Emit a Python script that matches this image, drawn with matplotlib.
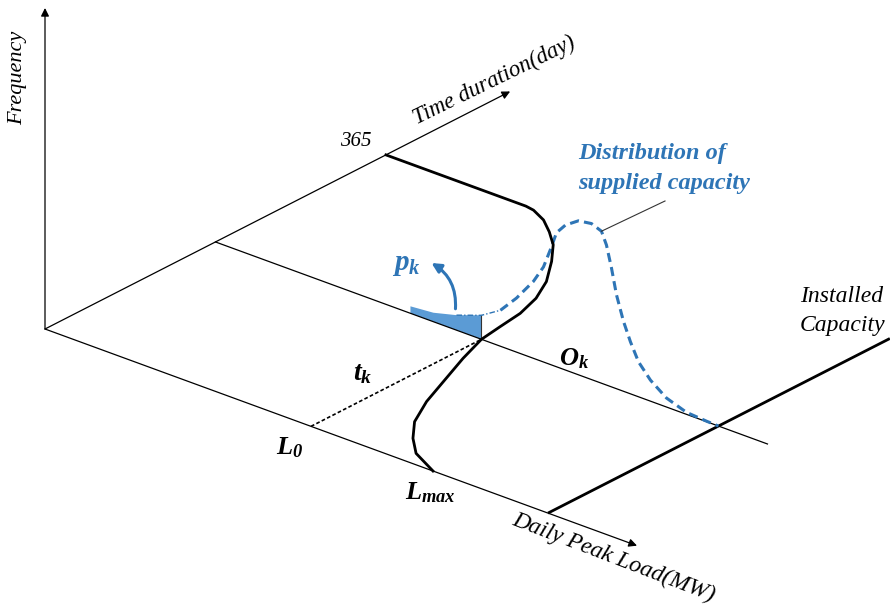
import numpy as np
import matplotlib.pyplot as plt
from matplotlib.patches import FancyArrowPatch, Polygon

plt.rcParams['mathtext.fontset'] = 'custom'
plt.rcParams['mathtext.it'] = 'Liberation Serif:italic:bold'
plt.rcParams['mathtext.rm'] = 'Liberation Serif:italic:bold'
plt.rcParams['mathtext.bf'] = 'Liberation Serif:italic:bold'

# ---- values -------------------------------------------------------------
days_in_year = 365
t_k = 182.5            # day at which the supplied-capacity slice is taken
load_L0 = 266          # load reached at t_k
load_Lmax = 388        # peak load of the year
installed_capacity = 503

# load-duration curve in the (load, day) floor plane
ldc_load = [0, 140, 149, 166, 183, 200, 218, 238, 251, 259, 262.5, 266,
            277, 292, 305, 321, 339, 358, 388]
ldc_days = [365, 365, 363.5, 356, 344, 330, 309, 282, 257, 231.5, 206,
            182.5, 151, 114, 82, 52, 31, 14, 0]

# distribution of supplied capacity on the t_k slice (load, frequency)
dist_load = [195, 218, 241, 266, 285, 301, 318, 328, 336, 341, 350, 363,
             376, 386, 391, 396, 401, 408, 415, 423, 435, 451, 471, 491, 503]
dist_freq = [7, 9, 15, 24, 36, 54, 77, 95, 118, 134, 145, 154,
             156, 152, 140, 119, 94, 70, 52, 35, 21, 9, 2, 0.5, 0]

# axis lengths (drawing units)
load_axis_end = 592
day_axis_end = 498
freq_axis_end = 321
slice_end = 552

# ---- oblique projection -------------------------------------------------
ORIGIN = np.array([45.0, 329.0])
U_LOAD = np.array([1.0, 0.366])
U_DAY = np.array([0.934, -0.477])
U_FREQ = np.array([0.0, -1.0])


def proj(load, day, freq=0.0):
    load = np.asarray(load, float)
    day = np.asarray(day, float)
    freq = np.asarray(freq, float)
    x = ORIGIN[0] + load * U_LOAD[0] + day * U_DAY[0] + freq * U_FREQ[0]
    y = ORIGIN[1] + load * U_LOAD[1] + day * U_DAY[1] + freq * U_FREQ[1]
    return x, y


BLUE = '#2E75B6'
FILL = '#5B9BD5'
SERIF = 'Liberation Serif'

fig = plt.figure(figsize=(8.9, 6.13), dpi=100)
ax = fig.add_axes([0, 0, 1, 1])
ax.set_xlim(0, 890)
ax.set_ylim(613, 0)
ax.axis('off')


def arrow_axis(p0, p1):
    ax.annotate('', xy=p1, xytext=p0,
                arrowprops=dict(arrowstyle='-|>', color='black', lw=0.9,
                                mutation_scale=12, shrinkA=0, shrinkB=0))


# axes
o = proj(0, 0, 0)
arrow_axis(o, proj(load_axis_end, 0, 0))
arrow_axis(o, proj(0, day_axis_end, 0))
arrow_axis(o, proj(0, 0, freq_axis_end))

# slice line at t_k
sx, sy = proj([0, slice_end], [t_k, t_k])
ax.plot(sx, sy, color='black', lw=0.9)

# dashed line from L0 to the slice
dx, dy = proj([load_L0, load_L0], [0, t_k])
ax.plot(dx, dy, color='black', lw=1.2, ls=(0, (2.2, 1.4)))

# installed capacity line
ix, iy = proj([installed_capacity, installed_capacity], [0, 366])
ax.plot(ix, iy, color='black', lw=2.0, solid_capstyle='butt')

# shaded probability p_k
dl = np.array(dist_load, float)
df = np.array(dist_freq, float)
m = dl <= load_L0
top_x, top_y = proj(dl[m], t_k, df[m])
bot_x, bot_y = proj(dl[m][::-1], t_k, 0)
poly = np.column_stack([np.r_[top_x, bot_x], np.r_[top_y, bot_y]])
ax.add_patch(Polygon(poly, closed=True, facecolor=FILL, edgecolor='none'))
ex, ey = proj([load_L0, load_L0], [t_k, t_k], [0, df[dl == load_L0][0]])
ax.plot(ex, ey, color='#333333', lw=0.8)

# distribution curve: thin part then thick dashed
thin = (dl >= 241) & (dl <= 285)
tx, ty = proj(dl[thin], t_k, df[thin])
ax.plot(tx, ty, color=BLUE, lw=1.0, ls=(0, (4, 1.5, 1, 1.5)))
thick = dl >= 285
kx, ky = proj(dl[thick], t_k, df[thick])
ax.plot(kx, ky, color=BLUE, lw=2.2, ls=(0, (3.0, 1.7)), dash_capstyle='butt')

# load-duration curve
lx, ly = proj(ldc_load, ldc_days, 0)
ax.plot(lx, ly, color='black', lw=2.0, solid_joinstyle='round')

# leader for distribution label
px, py = proj(386, t_k, 152)
ax.plot([px, 665], [py, 201], color='#333333', lw=0.8)

# p_k arrow
a0 = proj(240, t_k, 21)
a1 = proj(216, t_k, 58)
ax.add_patch(FancyArrowPatch(a0, a1, connectionstyle='arc3,rad=0.3',
                             arrowstyle='-|>', mutation_scale=14,
                             color=BLUE, lw=2.2, shrinkA=0, shrinkB=0))

# text
ax.text(18, 78, 'Frequency', rotation=90, ha='center', va='center',
        family=SERIF, style='italic', fontsize=16)
ax.text(494, 81, 'Time duration(day)', rotation=26, ha='center',
        va='center', family=SERIF, style='italic', fontsize=16.5,
        rotation_mode='anchor')
ax.text(356, 142, '365', ha='center', va='center', family=SERIF,
        style='italic', fontsize=15)
ax.text(614, 558, 'Daily Peak Load(MW)', rotation=-21, ha='center',
        va='center', family=SERIF, style='italic', fontsize=17,
        rotation_mode='anchor')
ax.text(800, 296, 'Installed', ha='left', va='center', family=SERIF,
        style='italic', fontsize=17)
ax.text(800, 325, 'Capacity', ha='left', va='center', family=SERIF,
        style='italic', fontsize=17)
ax.text(578, 154, 'Distribution of', ha='left', va='center', family=SERIF,
        style='italic', weight='bold', fontsize=17.5, color=BLUE)
ax.text(578, 183, 'supplied capacity', ha='left', va='center',
        family=SERIF, style='italic', weight='bold', fontsize=17.5,
        color=BLUE)
ax.text(406, 264, r'$p_k$', ha='center', va='center', fontsize=21,
        color=BLUE)
ax.text(363, 372, r'$t_k$', ha='center', va='center', fontsize=20)
ax.text(574, 358, r'$O_k$', ha='center', va='center', fontsize=19)
ax.text(290, 447, r'$L_0$', ha='center', va='center', fontsize=19)
ax.text(430, 492, r'$L_{max}$', ha='center', va='center', fontsize=19)

fig.savefig('out.png', dpi=100)
